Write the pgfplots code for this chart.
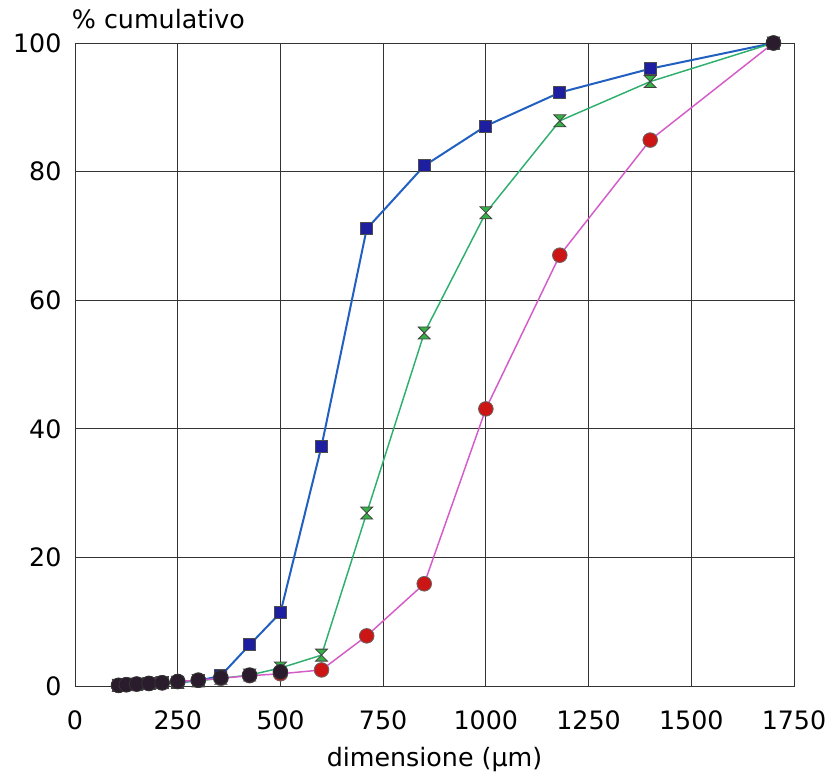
\documentclass[border=0pt]{standalone}
\usepackage{pgfplots}
\pgfplotsset{compat=1.18}
\usepackage{fontspec}
\setmainfont{DejaVu Sans}
\definecolor{bline}{HTML}{2160C0}
\definecolor{bfill}{HTML}{1E1EA0}
\definecolor{gline}{HTML}{2EAF6E}
\definecolor{gfill}{HTML}{38B048}
\definecolor{rline}{HTML}{D55CC8}
\definecolor{rfill}{HTML}{CC1515}
\definecolor{dfill}{HTML}{2A1C2C}
\pgfdeclareplotmark{hourglass}{%
  \pgfpathmoveto{\pgfqpoint{-\pgfplotmarksize}{\pgfplotmarksize}}%
  \pgfpathlineto{\pgfqpoint{\pgfplotmarksize}{\pgfplotmarksize}}%
  \pgfpathlineto{\pgfqpoint{-\pgfplotmarksize}{-\pgfplotmarksize}}%
  \pgfpathlineto{\pgfqpoint{\pgfplotmarksize}{-\pgfplotmarksize}}%
  \pgfpathclose
  \pgfusepathqfillstroke}
\begin{document}
\begin{tikzpicture}
\begin{axis}[
  scale only axis,
  width=539.25pt, height=482.25pt,
  xmin=0, xmax=1750, ymin=0, ymax=100,
  xtick={0,250,...,1750}, ytick={0,20,...,100},
  grid=major,
  major grid style={black!80, line width=0.6pt},
  axis line style={black!80, line width=0.6pt},
  major tick length=0pt,
  /pgf/number format/assume math mode=true,
  /pgf/number format/1000 sep={},
  every tick label/.append style={font=\fontsize{19}{22}\selectfont, inner sep=0pt},
  xticklabel shift=18pt,
  yticklabel shift=10pt,
  xlabel={dimensione (μm)},
  xlabel style={font=\fontsize{19}{22}\selectfont, at={(rel axis cs:0.5,0)}, anchor=north, inner sep=0pt, yshift=-46pt},
  ylabel={\% cumulativo},
  ylabel style={font=\fontsize{19}{22}\selectfont, rotate=-90, at={(rel axis cs:0,1)}, anchor=south west, inner sep=0pt, xshift=-2.5pt, yshift=10.5pt},
]
\addplot[color=bline, line width=1.5pt, mark=square*, mark size=4.5pt,
  mark options={fill=bfill, draw=black!70, line width=0.6pt}] coordinates {
(106,0.1) (125,0.2) (150,0.3) (180,0.4) (212,0.5) (250,0.6) (300,0.8)
(355,1.6) (425,6.4) (500,11.4) (600,37.3) (710,71.1) (850,80.9)
(1000,87.1) (1180,92.3) (1400,96.0) (1700,100)};
\addplot[color=gline, line width=1.1pt, mark=hourglass, mark size=4.5pt,
  mark options={fill=gfill, draw=black!75, line width=0.6pt}] coordinates {
(106,0.1) (125,0.2) (150,0.3) (180,0.4) (212,0.5) (250,0.6) (300,0.8)
(355,1.2) (425,1.7) (500,2.8) (600,4.8) (710,26.9) (850,54.9)
(1000,73.6) (1180,87.9) (1400,94.0) (1700,100)};
\addplot[color=rline, line width=1.1pt, mark=*, mark size=5.5pt,
  mark options={fill=rfill, draw=black!60, line width=0.6pt}] coordinates {
(106,0.1) (125,0.2) (150,0.3) (180,0.4) (212,0.5) (250,0.7) (300,0.9)
(355,1.2) (425,1.6) (500,1.9) (600,2.5) (710,7.8) (850,15.9)
(1000,43.1) (1180,67.0) (1400,84.9) (1700,100)};
\addplot[only marks, mark=*, mark size=5.5pt,
  mark options={fill=dfill, draw=black!80, line width=0.6pt}] coordinates {
(106,0.1) (125,0.2) (150,0.3) (180,0.4) (212,0.5) (250,0.7) (300,0.9)
(355,1.3) (425,1.7) (500,2.2) (1700,100)};
\end{axis}
\pgfresetboundingbox
\path ([xshift=-56.25pt,yshift=-72.75pt]current axis.south west) rectangle ([xshift=24.75pt,yshift=32.25pt]current axis.north east);
\end{tikzpicture}
\end{document}
